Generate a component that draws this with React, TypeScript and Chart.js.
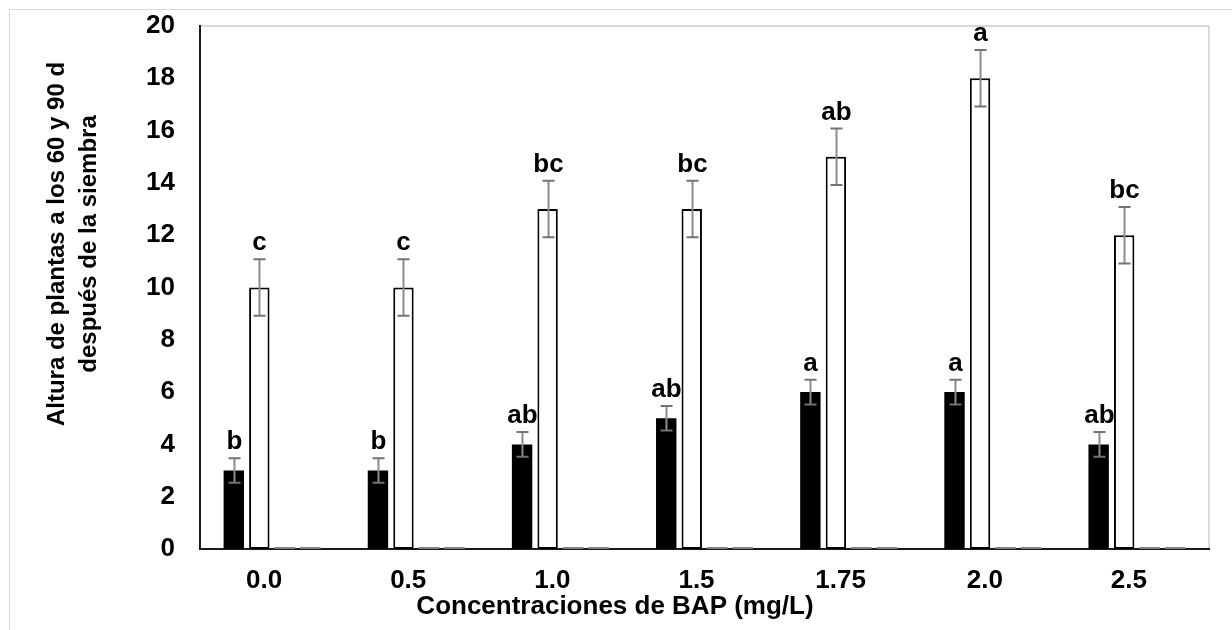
import React, { useEffect, useRef } from 'react';
import { Chart, registerables } from 'chart.js';

Chart.register(...registerables);

const categories = ['0.0', '0.5', '1.0', '1.5', '1.75', '2.0', '2.5'];
const height60 = [3, 3, 4, 5, 6, 6, 4];
const height90 = [10, 10, 13, 13, 15, 18, 12];
const err60 = [0.47, 0.47, 0.47, 0.47, 0.47, 0.47, 0.47];
const err90 = [1.08, 1.08, 1.08, 1.08, 1.08, 1.08, 1.08];
const letters60 = ['b', 'b', 'ab', 'ab', 'a', 'a', 'ab'];
const letters90 = ['c', 'c', 'bc', 'bc', 'ab', 'a', 'bc'];
const emptySeriesA = [0, 0, 0, 0, 0, 0, 0];
const emptySeriesB = [0, 0, 0, 0, 0, 0, 0];
const yMin = 0;
const yMax = 20;
const yStep = 2;
const xTitle = 'Concentraciones de BAP (mg/L)';
const yTitle = ['Altura de plantas a los 60 y 90 d', 'después de la siembra'];

const FONT = '"Liberation Sans", Arial, sans-serif';

const decorPlugin = {
  id: 'decor',
  beforeDraw(chart: any) {
    const { ctx, chartArea: a } = chart;
    ctx.save();
    ctx.fillStyle = '#ffffff';
    ctx.fillRect(0, 0, chart.width, chart.height);
    ctx.strokeStyle = '#d9d9d9';
    ctx.lineWidth = 1;
    ctx.beginPath();
    ctx.moveTo(9.5, chart.height);
    ctx.lineTo(9.5, 9.5);
    ctx.lineTo(chart.width, 9.5);
    ctx.stroke();
    ctx.lineWidth = 2;
    ctx.strokeRect(a.left, a.top, a.right - a.left, a.bottom - a.top);
    ctx.restore();
  },
  afterDatasetsDraw(chart: any) {
    const { ctx } = chart;
    const y = chart.scales.y;
    const sets = [
      { idx: 0, vals: height60, errs: err60, letters: letters60 },
      { idx: 1, vals: height90, errs: err90, letters: letters90 },
    ];
    ctx.save();
    sets.forEach((s) => {
      const meta = chart.getDatasetMeta(s.idx);
      meta.data.forEach((bar: any, j: number) => {
        const x = Math.round(bar.x) + 0.5;
        const top = y.getPixelForValue(s.vals[j] + s.errs[j]);
        const bot = y.getPixelForValue(s.vals[j] - s.errs[j]);
        ctx.strokeStyle = '#8c8c8c';
        ctx.lineWidth = 2;
        ctx.beginPath();
        ctx.moveTo(x, top);
        ctx.lineTo(x, bot);
        ctx.stroke();
        ctx.strokeStyle = '#737373';
        ctx.beginPath();
        ctx.moveTo(x - 6, top);
        ctx.lineTo(x + 6, top);
        ctx.moveTo(x - 6, bot);
        ctx.lineTo(x + 6, bot);
        ctx.stroke();
        ctx.fillStyle = '#000000';
        ctx.font = `bold 26px ${FONT}`;
        ctx.textAlign = 'center';
        ctx.textBaseline = 'alphabetic';
        ctx.fillText(s.letters[j], x, top - 9);
      });
    });
    // axis titles
    ctx.fillStyle = '#000000';
    ctx.textAlign = 'center';
    ctx.textBaseline = 'middle';
    ctx.font = `bold 26px ${FONT}`;
    ctx.fillText(xTitle, 615, 607);
    ctx.font = `bold 24px ${FONT}`;
    ctx.save();
    ctx.translate(57, 244);
    ctx.rotate(-Math.PI / 2);
    ctx.fillText(yTitle[0], 0, 0);
    ctx.fillText(yTitle[1], 0, 32);
    ctx.restore();
    ctx.restore();
  },
};

export default function App() {
  const ref = useRef<HTMLCanvasElement | null>(null);
  useEffect(() => {
    if (!ref.current) return;
    const chart = new Chart(ref.current, {
      type: 'bar',
      data: {
        labels: categories,
        datasets: [
          {
            label: '60 d',
            data: height60,
            backgroundColor: '#000000',
            borderColor: '#000000',
            borderWidth: 0,
          },
          {
            label: '90 d',
            data: height90,
            backgroundColor: '#ffffff',
            borderColor: '#000000',
            borderWidth: 2,
            borderSkipped: false,
          },
          {
            label: 'A',
            data: emptySeriesA,
            backgroundColor: '#7f7f7f',
            borderWidth: 0,
            minBarLength: 2,
          },
          {
            label: 'B',
            data: emptySeriesB,
            backgroundColor: '#7f7f7f',
            borderWidth: 0,
            minBarLength: 2,
          },
        ] as any,
      },
      options: {
        responsive: false,
        animation: false,
        devicePixelRatio: 1,
        categoryPercentage: 0.708,
        barPercentage: 0.8,
        layout: { padding: { top: 26, right: 23, left: 0, bottom: 0 } },
        plugins: {
          legend: { display: false },
          tooltip: { enabled: false },
        },
        scales: {
          x: {
            grid: { display: false, drawTicks: false },
            border: { display: true, color: '#1a1a1a', width: 2 },
            ticks: {
              color: '#000000',
              font: { family: FONT, size: 26, weight: 'bold' },
              padding: 16,
              labelOffset: -8,
              maxRotation: 0,
            },
            afterFit: (s: any) => {
              s.height = 81;
              s.paddingLeft = 0;
              s.paddingRight = 0;
            },
          },
          y: {
            min: yMin,
            max: yMax,
            grid: { display: false, drawTicks: false },
            border: { display: true, color: '#1a1a1a', width: 2 },
            ticks: {
              stepSize: yStep,
              color: '#000000',
              font: { family: FONT, size: 26, weight: 'bold' },
              padding: 25,
            },
            afterFit: (s: any) => {
              s.width = 200;
              s.paddingTop = 0;
              s.paddingBottom = 0;
            },
          },
        },
      } as any,
      plugins: [decorPlugin],
    });
    return () => chart.destroy();
  }, []);
  return (
    <div style={{ position: 'absolute', left: 0, top: 0, width: 1232, height: 630 }}>
      <canvas ref={ref} width={1232} height={630} style={{ width: 1232, height: 630 }} />
    </div>
  );
}
